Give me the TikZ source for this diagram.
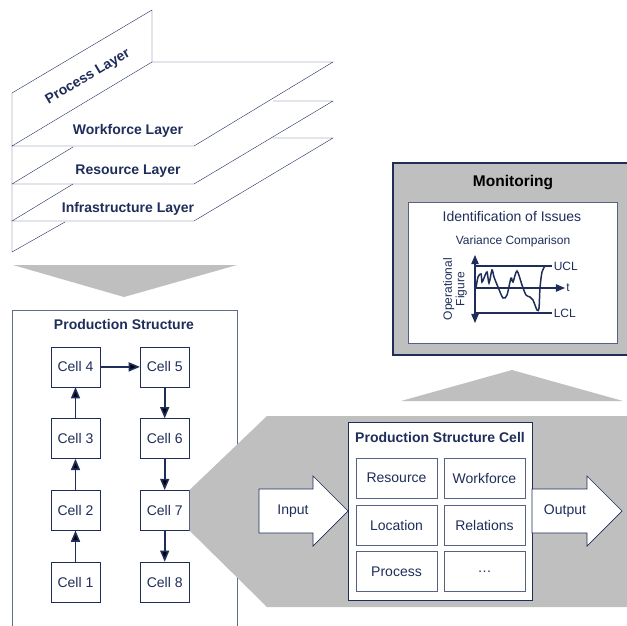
\documentclass[tikz,border=0pt]{standalone}
\usepackage{fontspec}
\setmainfont{Liberation Sans}
\usetikzlibrary{arrows}
\usetikzlibrary{positioning}

\definecolor{navy}{RGB}{31,45,90}
\definecolor{lightgray}{RGB}{191,191,191}

\begin{document}
\begin{tikzpicture}[x=1pt, y=-1pt, >=triangle 45, semithick]
            \tikzstyle{every node}=[text=navy, font=\fontsize{14pt}{16pt}\selectfont]
            \tikzstyle{layer}=[draw=navy, thin]
            \tikzstyle{layerlabel}=[font=\fontsize{14pt}{16pt}\selectfont\bfseries]
            \tikzstyle{cell}=[draw=navy, fill=white, line width=0.7pt, minimum width=49pt, minimum height=40pt]
            \tikzstyle{part}=[draw=navy!75, fill=white, line width=0.9pt, minimum width=81pt, minimum height=40pt]
            \tikzstyle{flow}=[->, draw=navy, line width=1.6pt]
            \tikzstyle{bigarrow}=[draw=navy, fill=white, line width=0.7pt]
            \tikzstyle{chart}=[draw=navy, line width=1.5pt]

            \useasboundingbox (0,0) rectangle (627,626);
            \clip (0,0) rectangle (627,626);

            % layers
            \draw[layer] (12,252) -- (12,93) -- (152,10) -- (152,62) -- (333,62) -- (194,146) -- (12,146) -- (152,62);
            \draw[layer] (73,147) -- (12,184) -- (194,184) -- (333,101) -- (273,101);
            \draw[layer] (73,184) -- (12,221) -- (194,221) -- (333,138) -- (273,138);
            \draw[layer] (12,252) -- (65,222);
            \node[layerlabel, rotate=30.7] (proc) at (88,77) {Process Layer};
            \node[layerlabel] (work) at (128,131) {Workforce Layer};
            \node[layerlabel] (res) at (128,171) {Resource Layer};
            \node[layerlabel] (infra) at (128,209) {Infrastructure Layer};

            % gray pointers
            \fill[lightgray] (13,265) -- (237,265) -- (124,297) -- cycle;
            \fill[lightgray] (401,401) -- (512,370) -- (623,401) -- cycle;

            % production structure
            \draw[draw=navy!70, line width=0.9pt] (12,640) -- (12,310) -- (237,310) -- (237,640);
            \node[font=\fontsize{14pt}{16pt}\selectfont\bfseries] (ps) at (124,324) {Production Structure};

            \node[cell] (c1) at (75.5,582) {Cell 1};
            \node[cell] (c2) [above=31pt of c1] {Cell 2};
            \node[cell] (c3) [above=31pt of c2] {Cell 3};
            \node[cell] (c4) [above=31pt of c3] {Cell 4};
            \node[cell] (c5) [right=39.5pt of c4] {Cell 5};
            \node[cell] (c6) [below=31pt of c5] {Cell 6};
            \node[cell] (c7) [below=31pt of c6] {Cell 7};
            \node[cell] (c8) [below=31pt of c7] {Cell 8};

            \path[flow] (c1) edge (c2)
                        (c2) edge (c3)
                        (c3) edge (c4)
                        (c4) edge (c5)
                        (c5) edge (c6)
                        (c6) edge (c7)
                        (c7) edge (c8);

            % zoom into cell 7
            \fill[lightgray] (c7.north east) -- (267,416) -- (640,416) -- (640,607) -- (267,607) -- (c7.south east) -- cycle;

            \node[draw=navy, fill=white, line width=0.9pt, minimum width=184pt, minimum height=178pt] (psc) at (440,511) {};
            \node[font=\fontsize{14pt}{16pt}\selectfont\bfseries] (psctitle) at (440,437) {Production Structure Cell};
            \node[part] (pres) at (396.5,478) {Resource};
            \node[part] (pwork) at (484.5,478) {Workforce};
            \node[part] (ploc) at (396.5,525.5) {Location};
            \node[part] (prel) at (484.5,525.5) {Relations};
            \node[part] (pproc) at (396.5,571.5) {Process};
            \node[part] (pmore) at (484.5,571.5) {\dots};

            \draw[bigarrow] (259,489) -- (313,489) -- (313,476) -- (348,511) -- (313,546) -- (313,533) -- (259,533) -- cycle;
            \node (in) at (293,511) {Input};
            \draw[bigarrow] (532,489) -- (587,489) -- (587,476) -- (622,511) -- (587,546) -- (587,533) -- (532,533) -- cycle;
            \node (out) at (565,511) {Output};

            % monitoring
            \draw[draw=navy, fill=lightgray, line width=1.3pt] (640,163) -- (393,163) -- (393,355) -- (640,355);
            \node[text=black, font=\fontsize{15.5pt}{18pt}\selectfont\bfseries] (mon) at (513,183) {Monitoring};
            \node[draw=navy!75, fill=white, line width=0.9pt, minimum width=209pt, minimum height=141pt] (issues) at (512.5,272.5) {};
            \node (ident) at (512,216) {Identification of Issues};
            \node[font=\fontsize{12pt}{14pt}\selectfont] (var) at (513,241) {Variance Comparison};

            \coordinate (ytop) at (475,255);
            \coordinate (ybot) at (475,323);
            \coordinate (orig) at (475,288);
            \coordinate (tend) at (565,288);
            \draw[<->, draw=navy, line width=1.1pt] (ytop) -- (ybot);
            \draw[->, draw=navy, line width=1.1pt] (orig) -- (tend);
            \draw[chart] (475,266) -- (552,266) node[anchor=west, inner sep=1pt, font=\fontsize{12pt}{14pt}\selectfont] (ucl) {UCL};
            \draw[chart] (475,313) -- (552,313) node[anchor=west, inner sep=1pt, font=\fontsize{12pt}{14pt}\selectfont] (lcl) {LCL};
            \node[anchor=west, inner sep=1pt, font=\fontsize{12pt}{14pt}\selectfont] (t) at (tend) {t};
            \node[rotate=90, align=center, font=\fontsize{12pt}{12.5pt}\selectfont] (opfig) at (455,289) {Operational\\Figure};
            \draw[chart] plot[smooth, tension=0.5] coordinates {(476,288) (478,277) (481,274) (482,282) (484,278) (487,272) (489,283) (492,270) (494,277) (498,287) (503,298) (507,295) (511,278) (513,282) (517,271) (522,285) (526,295) (530,297) (533,300) (537,310) (539,308) (540,288) (542,272) (545,266)};
          \end{tikzpicture}
\end{document}
